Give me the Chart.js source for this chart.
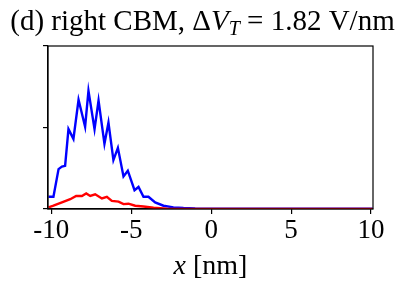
<!DOCTYPE html>
<html>
<head>
<meta charset="utf-8">
<script src="https://cdn.jsdelivr.net/npm/chart.js@4.4.1/dist/chart.umd.min.js"></script>
<style>
  html, body { margin: 0; padding: 0; background: #fff; }
  #wrap { width: 407px; height: 291px; }
</style>
</head>
<body>
<div id="wrap"><canvas id="c" width="407" height="291"></canvas></div>
<script>
// values (x in nm, y in arbitrary units)
const blueX = [-10.17, -9.86, -9.54, -9.33, -9.13, -8.92, -8.61, -8.29, -7.88, -7.67, -7.29, -7.04, -6.67, -6.42, -6.11, -5.83, -5.48, -5.21, -4.79, -4.54, -4.23, -3.92, -3.5, -2.98, -2.36, -1.73, -1.0, 0.0, 5.0, 10.1]
const blueY = [0.15, 0.15, 0.49, 0.52, 0.53, 0.98, 0.86, 1.34, 1.01, 1.45, 0.98, 1.33, 0.80, 1.06, 0.60, 0.75, 0.40, 0.47, 0.23, 0.27, 0.15, 0.15, 0.08, 0.04, 0.02, 0.012, 0.006, 0.005, 0.005, 0.005]
const redX = [-10.17, -9.86, -9.33, -8.81, -8.44, -8.08, -7.81, -7.56, -7.25, -6.83, -6.52, -6.21, -5.79, -5.48, -5.17, -4.75, -4.23, -3.6, -2.77, -2.2, 0.0, 10.1]
const redY = [0.02, 0.04, 0.08, 0.12, 0.16, 0.16, 0.19, 0.16, 0.18, 0.13, 0.15, 0.10, 0.09, 0.06, 0.065, 0.04, 0.03, 0.015, 0.005, 0.002, 0.001, 0.001]
const xTicks = [-10, -5, 0, 5, 10]

const serif = "'Liberation Serif', 'DejaVu Serif', serif"

function toPoints (xs, ys) {
  return xs.map((x, i) => ({ x: x, y: ys[i] }))
}

// draws the frame, the title (with subscript) and the x axis label
const decorations = {
  id: 'decorations',
  afterDraw (chart) {
    const ctx = chart.ctx
    const area = chart.chartArea
    ctx.save()
    ctx.strokeStyle = '#000'
    ctx.lineWidth = 1.2
    ctx.strokeRect(area.left, area.top, area.right - area.left, area.bottom - area.top)

    ctx.fillStyle = '#000'
    ctx.textBaseline = 'alphabetic'
    const size = 29
    const parts = [
      { t: '(d) right CBM, Δ', f: size + 'px ' + serif, dy: 0 },
      { t: 'V', f: 'italic ' + size + 'px ' + serif, dy: 0 },
      { t: 'T', f: 'italic ' + Math.round(size * 0.7) + 'px ' + serif, dy: 5 },
      { t: ' = 1.82 V/nm', f: size + 'px ' + serif, dy: 0 }
    ]
    let total = 0
    for (const p of parts) {
      ctx.font = p.f
      p.w = ctx.measureText(p.t).width
      total += p.w
    }
    let x = 202.5 - total / 2
    for (const p of parts) {
      ctx.font = p.f
      ctx.fillText(p.t, x, 30 + p.dy)
      x += p.w
    }

    const label = [
      { t: 'x', f: 'italic 28px ' + serif },
      { t: ' [nm]', f: '28px ' + serif }
    ]
    total = 0
    for (const p of label) {
      ctx.font = p.f
      p.w = ctx.measureText(p.t).width
      total += p.w
    }
    x = (area.left + area.right) / 2 - total / 2
    for (const p of label) {
      ctx.font = p.f
      ctx.fillText(p.t, x, 274)
      x += p.w
    }
    ctx.restore()
  }
}

const chart = new Chart(document.getElementById('c'), { // eslint-disable-line
  type: 'line',
  data: {
    datasets: [
      {
        label: 'red',
        data: toPoints(redX, redY),
        borderColor: '#ff0000',
        borderWidth: 2.4,
        pointRadius: 0,
        tension: 0
      },
      {
        label: 'blue',
        data: toPoints(blueX, blueY),
        borderColor: '#0000ff',
        borderWidth: 2.4,
        pointRadius: 0,
        tension: 0
      }
    ]
  },
  options: {
    responsive: false,
    animation: false,
    layout: { padding: { left: 0, right: 34, top: 46, bottom: 0 } },
    plugins: {
      legend: { display: false },
      tooltip: { enabled: false }
    },
    scales: {
      x: {
        type: 'linear',
        min: -10.2,
        max: 10.12,
        afterFit: (scale) => { scale.height = 82 },
        afterBuildTicks: (scale) => { scale.ticks = xTicks.map(v => ({ value: v })) },
        border: { display: true, color: '#000', width: 1.2 },
        grid: { drawOnChartArea: false, drawTicks: true, tickLength: 5, color: '#000', lineWidth: 1.2 },
        ticks: {
          color: '#000',
          padding: 1,
          maxRotation: 0,
          font: { family: serif, size: 27 },
          callback: (v) => String(v)
        }
      },
      y: {
        type: 'linear',
        min: 0,
        max: 2,
        afterFit: (scale) => { scale.width = 48 },
        afterBuildTicks: (scale) => { scale.ticks = [{ value: 0 }, { value: 1 }, { value: 2 }] },
        border: { display: true, color: '#000', width: 1.2 },
        grid: { drawOnChartArea: false, drawTicks: true, tickLength: 5, color: '#000', lineWidth: 1.2 },
        ticks: { display: false }
      }
    }
  },
  plugins: [decorations]
})
</script>
</body>
</html>
